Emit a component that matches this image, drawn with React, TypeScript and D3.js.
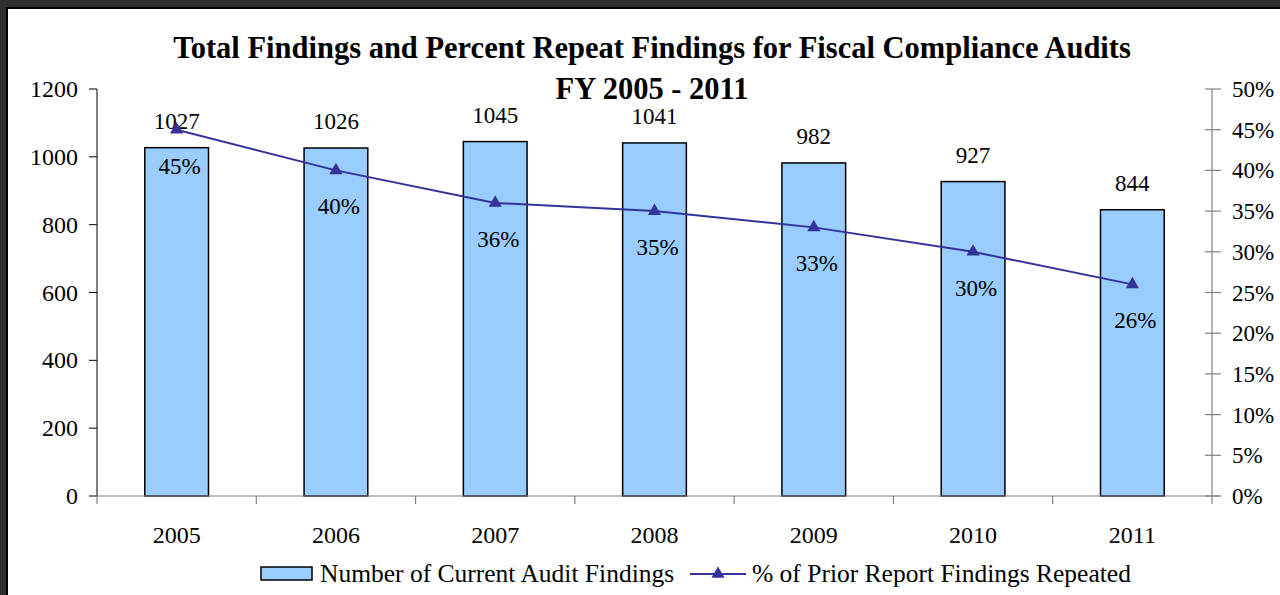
import React from "react";
import * as d3 from "d3";

const years = ["2005", "2006", "2007", "2008", "2009", "2010", "2011"];
const findings = [1027, 1026, 1045, 1041, 982, 927, 844];
const repeatPct = [45, 40, 36, 35, 33, 30, 26];
const leftTicks = [0, 200, 400, 600, 800, 1000, 1200];
const rightTicks = [0, 5, 10, 15, 20, 25, 30, 35, 40, 45, 50];
const titleLines = [
  "Total Findings and Percent Repeat Findings for Fiscal Compliance Audits",
  "FY 2005 - 2011",
];
const legendLabels = ["Number of Current Audit Findings", "% of Prior Report Findings Repeated"];

const W = 1280;
const H = 595;
const L = 97;
const R = 1212;
const T = 89;
const B = 496;
const FONT = "'Liberation Serif', 'Times New Roman', serif";
const BAR = "#99CCFF";
const LINE = "#333399";
const AXIS = "#808080";

export default function App() {
  const x = d3.scaleBand<string>().domain(years).range([L, R]).paddingInner(0.6).paddingOuter(0.3);
  const yL = d3.scaleLinear().domain([0, 1200]).range([B, T]);
  const yR = d3.scaleLinear().domain([0, 50]).range([B, T]);
  const step = x.step();
  const cx = (y: string) => (x(y) as number) + x.bandwidth() / 2;
  const line = d3
    .line<number>()
    .x((_, i) => cx(years[i]))
    .y((d) => yR(d));
  const tri = d3.symbol().type(d3.symbolTriangle).size(75)() as string;

  return (
    <div style={{ position: "fixed", left: 0, top: 0 }}>
      <svg width={W} height={H} style={{ display: "block" }} fontFamily={FONT}>
        <rect x={0} y={0} width={W} height={H} fill="#2e2e2e" />
        <rect x={7} y={8} width={W} height={H} fill="#ffffff" stroke="#000" strokeWidth={2} />
        {/* title */}
        {titleLines.map((t, i) => (
          <text key={i} x={652} y={58 + i * 41} textAnchor="middle" fontWeight="bold" fontSize={30.5} fill="#000">
            {t}
          </text>
        ))}
        {/* bars */}
        {years.map((yr, i) => (
          <rect
            key={yr}
            x={x(yr)}
            y={yL(findings[i])}
            width={x.bandwidth()}
            height={B - yL(findings[i])}
            fill={BAR}
            stroke="#000"
            strokeWidth={1.5}
          />
        ))}
        {/* axes */}
        <line x1={L} x2={L} y1={T} y2={B} stroke="#000" strokeWidth={1} />
        {leftTicks.map((t) => (
          <g key={t}>
            <line x1={L - 8} x2={L} y1={yL(t)} y2={yL(t)} stroke="#000" />
            <text x={78} y={yL(t) + 8} textAnchor="end" fontSize={24} fill="#000">
              {t}
            </text>
          </g>
        ))}
        <line x1={R} x2={R} y1={T} y2={B} stroke={AXIS} strokeWidth={1.2} />
        {rightTicks.map((t) => (
          <g key={t}>
            <line x1={R - 7} x2={R + 9} y1={yR(t)} y2={yR(t)} stroke={AXIS} strokeWidth={1.2} />
            <text x={1232} y={yR(t) + 8} textAnchor="start" fontSize={23} fill="#000">
              {t}%
            </text>
          </g>
        ))}
        <line x1={L - 8} x2={R + 9} y1={B} y2={B} stroke={AXIS} strokeWidth={1.2} />
        {d3.range(years.length + 1).map((i) => (
          <line key={i} x1={L + i * step} x2={L + i * step} y1={B} y2={B + 8} stroke={AXIS} strokeWidth={1.2} />
        ))}
        {years.map((yr) => (
          <text key={yr} x={cx(yr)} y={543} textAnchor="middle" fontSize={24} fill="#000">
            {yr}
          </text>
        ))}
        {/* bar labels */}
        {years.map((yr, i) => (
          <text key={yr} x={cx(yr)} y={yL(findings[i]) - 19} textAnchor="middle" fontSize={23} fill="#000">
            {findings[i]}
          </text>
        ))}
        {/* line */}
        <path d={line(repeatPct) as string} fill="none" stroke={LINE} strokeWidth={2} />
        {repeatPct.map((p, i) => (
          <path key={i} d={tri} transform={`translate(${cx(years[i])},${yR(p)})`} fill={LINE} />
        ))}
        {repeatPct.map((p, i) => (
          <text key={i} x={cx(years[i]) + 3} y={yR(p) + 44} textAnchor="middle" fontSize={23} fill="#000">
            {p}%
          </text>
        ))}
        {/* legend */}
        <rect x={261} y={567} width={51} height={13} fill={BAR} stroke="#000" strokeWidth={1.5} />
        <text x={320} y={582} fontSize={25.5} fill="#000">
          {legendLabels[0]}
        </text>
        <line x1={690} x2={746} y1={574} y2={574} stroke={LINE} strokeWidth={2} />
        <path d={tri} transform="translate(718,574)" fill={LINE} />
        <text x={752} y={582} fontSize={25.5} fill="#000">
          {legendLabels[1]}
        </text>
      </svg>
    </div>
  );
}
